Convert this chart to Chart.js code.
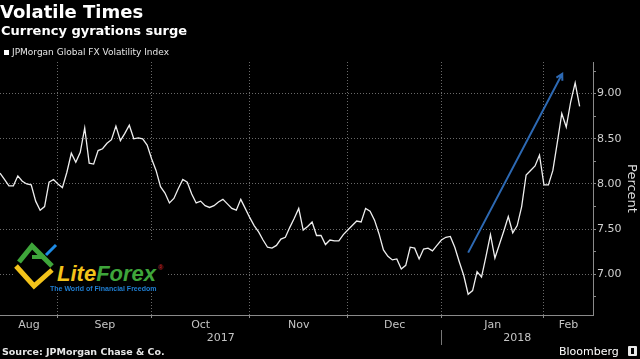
<!DOCTYPE html>
<html>
<head>
<meta charset="utf-8">
<title>Volatile Times</title>
<script src="https://cdn.jsdelivr.net/npm/chart.js"></script>
<style>
  body { margin: 0; background: #000; }
  #wrap { position: relative; width: 640px; height: 359px; background: #000; overflow: hidden;
          font-family: "DejaVu Sans", sans-serif; color: #fff; }
  #chart { position: absolute; left: 0; top: 0; }
  .txt { position: absolute; line-height: 1; white-space: nowrap; }
  #title { left: 0; top: 3px; font-size: 18px; font-weight: bold; }
  #subtitle { left: 1px; top: 24px; font-size: 13px; font-weight: bold; }
  #legendBox { position: absolute; left: 4px; top: 50px; width: 5px; height: 5px; background: #fff; }
  #legend { left: 12px; top: 48px; font-size: 9px; color: #e6e6e6; }
  #source { left: 2px; top: 347px; font-size: 9.5px; font-weight: bold; color: #e6e6e6; }
  #brand { left: 559px; top: 346px; font-size: 11px; color: #fff; }
  #brandIcon { position: absolute; left: 628px; top: 346px; width: 9px; height: 10px; background: #e8e8e8; border-radius: 1px; }
  #brandIcon span { position: absolute; left: 3px; top: 2px; width: 3px; height: 6px; background: #000; }
  #logo { position: absolute; left: 13px; top: 241px; width: 153px; height: 52px; background: #000; }
  #logo svg { position: absolute; left: 1px; top: -1px; }
  #logoName { left: 44px; top: 22px; font-family: "Liberation Sans", sans-serif; font-size: 22px;
              font-weight: bold; font-style: italic; }
  #logoName .a { color: #f3c31a; }
  #logoName .b { color: #3ea53a; }
  #logoName sup { color: #c0262d; font-size: 7px; font-style: normal; vertical-align: 11px; margin-left: 2px; }
  #logoTag { left: 37px; top: 43.5px; font-family: "Liberation Sans", sans-serif; font-size: 7px;
             font-weight: bold; color: #1f7fd4; }
</style>
</head>
<body>
<div id="wrap">
  <canvas id="chart" width="640" height="359"></canvas>
  <div class="txt" id="title">Volatile Times</div>
  <div class="txt" id="subtitle">Currency gyrations surge</div>
  <div id="legendBox"></div>
  <div class="txt" id="legend">JPMorgan Global FX Volatility Index</div>
  <div id="logo">
    <svg width="48" height="50" viewBox="0 0 48 50">
      <polyline points="5,22 18,6 38,26" fill="none" stroke="#3ea53a" stroke-width="5" stroke-linejoin="miter"/>
      <line x1="18" y1="17" x2="31" y2="17" stroke="#3ea53a" stroke-width="4"/>
      <polyline points="2,26 20,46 38,30" fill="none" stroke="#f3c31a" stroke-width="5"/>
      <line x1="32" y1="15" x2="42" y2="5" stroke="#1e8ce6" stroke-width="3"/>
    </svg>
    <div class="txt" id="logoName"><span class="a">Lite</span><span class="b">Forex</span><sup>®</sup></div>
    <div class="txt" id="logoTag">The World of Financial Freedom</div>
  </div>
  <div class="txt" id="source">Source: JPMorgan Chase &amp; Co.</div>
  <div class="txt" id="brand">Bloomberg</div>
  <div id="brandIcon"><span></span></div>
</div>
<script>
// JPMorgan Global FX Volatility Index, one value per trading day (mid-Aug 2017 .. mid-Feb 2018)
const values = [
  8.12, 8.05, 7.98, 7.98, 8.09, 8.03, 8.00, 7.99, 7.81, 7.71,
  7.75, 8.02, 8.05, 8.00, 7.96, 8.13, 8.34, 8.24, 8.35, 8.62,
  8.23, 8.22, 8.37, 8.39, 8.45, 8.49, 8.64, 8.48, 8.56, 8.65,
  8.50, 8.51, 8.50, 8.43, 8.28, 8.15, 7.97, 7.90, 7.79, 7.84,
  7.95, 8.05, 8.02, 7.89, 7.79, 7.81, 7.76, 7.74, 7.76, 7.80,
  7.83, 7.78, 7.73, 7.71, 7.83, 7.73, 7.63, 7.54, 7.47, 7.38,
  7.30, 7.29, 7.32, 7.39, 7.41, 7.52, 7.62, 7.73, 7.49, 7.53,
  7.58, 7.43, 7.43, 7.33, 7.38, 7.37, 7.37, 7.44, 7.49, 7.54,
  7.59, 7.58, 7.73, 7.70, 7.60, 7.45, 7.27, 7.20, 7.16, 7.17,
  7.06, 7.10, 7.30, 7.29, 7.17, 7.28, 7.29, 7.26, 7.32, 7.38,
  7.41, 7.42, 7.30, 7.14, 6.99, 6.78, 6.82, 7.03, 6.97, 7.20,
  7.44, 7.18, 7.33, 7.48, 7.64, 7.46, 7.54, 7.75, 8.10, 8.15,
  8.20, 8.32, 7.99, 7.99, 8.15, 8.46, 8.78, 8.63, 8.91, 9.12,
  8.86
];

const monthNames = ["Aug", "Sep", "Oct", "Nov", "Dec", "Jan", "Feb"];
// trading-day index where Sep, Oct, Nov, Dec, Jan, Feb begin
const monthStarts = [13, 34, 56, 78, 99, 122];
const yearNames = ["2017", "2018"];
const yearStarts = [99];

// hand-drawn arrow on the original chart, in data units [day index, percent]
const arrowFrom = [105, 7.24];
const arrowTo = [126.1, 9.22];

const isMajor = (v) => Math.round(v * 100) % 50 === 0;

const axisText = {
  id: "axisText",
  afterDatasetsDraw(chart) {
    const { ctx, scales: { x, y } } = chart;
    const x1 = x.getPixelForValue(arrowFrom[0]), y1 = y.getPixelForValue(arrowFrom[1]);
    const x2 = x.getPixelForValue(arrowTo[0]), y2 = y.getPixelForValue(arrowTo[1]);
    const ang = Math.atan2(y2 - y1, x2 - x1);
    ctx.save();
    ctx.strokeStyle = "#2d69b3";
    ctx.lineWidth = 2;
    ctx.beginPath();
    ctx.moveTo(x1, y1);
    ctx.lineTo(x2, y2);
    ctx.moveTo(x2 - 7 * Math.cos(ang - 0.5), y2 - 7 * Math.sin(ang - 0.5));
    ctx.lineTo(x2, y2);
    ctx.lineTo(x2 - 7 * Math.cos(ang + 0.5), y2 - 7 * Math.sin(ang + 0.5));
    ctx.stroke();
    ctx.restore();
  },
  afterDraw(chart) {
    const { ctx, chartArea, scales: { x } } = chart;
    ctx.save();
    ctx.font = '11px "DejaVu Sans"';
    ctx.fillStyle = "#c4c4c4";
    ctx.textAlign = "center";
    ctx.textBaseline = "middle";

    // month names centred in their span, kept inside the axis
    const bounds = [x.min, ...monthStarts, x.max];
    monthNames.forEach((name, i) => {
      let cx = x.getPixelForValue((bounds[i] + bounds[i + 1]) / 2);
      const half = ctx.measureText(name).width / 2;
      cx = Math.max(chartArea.left + half, Math.min(chartArea.right - half, cx));
      ctx.fillText(name, cx, chartArea.bottom + 10);
    });

    // years
    const yb = [x.min, ...yearStarts, x.max];
    yearNames.forEach((name, i) => {
      const cx = x.getPixelForValue((yb[i] + yb[i + 1]) / 2);
      ctx.fillText(name, cx, chartArea.bottom + 23);
    });
    ctx.strokeStyle = "#777";
    ctx.lineWidth = 1;
    yearStarts.forEach((v) => {
      const px = Math.round(x.getPixelForValue(v)) + 0.5;
      ctx.beginPath();
      ctx.moveTo(px, chartArea.bottom + 15);
      ctx.lineTo(px, chartArea.bottom + 30);
      ctx.stroke();
    });
    ctx.restore();
  }
};

const ctx = document.getElementById("chart").getContext("2d");

new Chart(ctx, {
  type: "line",
  data: {
    datasets: [
      {
        label: "JPMorgan Global FX Volatility Index",
        data: values.map((v, i) => ({ x: i, y: v })),
        borderColor: "#efefef",
        borderWidth: 1.3,
        pointRadius: 0,
        tension: 0,
      },
    ],
  },
  options: {
    responsive: false,
    animation: false,
    devicePixelRatio: 1,
    events: [],
    layout: {
      padding: { top: 62, left: 0, right: 0, bottom: 41 },
    },
    scales: {
      x: {
        type: "linear",
        min: 0,
        max: 133,
        afterBuildTicks: (scale) => {
          scale.ticks = monthStarts.map((v) => ({ value: v }));
        },
        ticks: { display: false },
        grid: {
          color: "#6a6a6a",
          tickColor: "#8a8a8a",
          tickBorderDash: [],
          tickLength: 3,
        },
        border: { display: true, color: "#8a8a8a", width: 1, dash: [1, 2] },
      },
      y: {
        position: "right",
        min: 6.55,
        max: 9.35,
        afterFit: (scale) => {
          scale.width = 47;
        },
        ticks: {
          stepSize: 0.25,
          includeBounds: false,
          autoSkip: false,
          padding: 1,
          color: "#d0d0d0",
          font: { family: "DejaVu Sans", size: 11 },
          callback: (v) => (isMajor(v) ? v.toFixed(2) : ""),
        },
        grid: {
          color: (c) => (isMajor(c.tick.value) ? "#6a6a6a" : "rgba(0,0,0,0)"),
          tickColor: "#8a8a8a",
          tickBorderDash: [],
          tickLength: 3,
        },
        border: { display: true, color: "#8a8a8a", width: 1, dash: [1, 2] },
        title: {
          display: true,
          text: "Percent",
          color: "#dcdcdc",
          font: { family: "DejaVu Sans", size: 13 },
          padding: { top: 1, bottom: 0 },
        },
      },
    },
    plugins: {
      legend: { display: false },
      tooltip: { enabled: false },
    },
  },
  plugins: [axisText],
});
</script>
</body>
</html>
